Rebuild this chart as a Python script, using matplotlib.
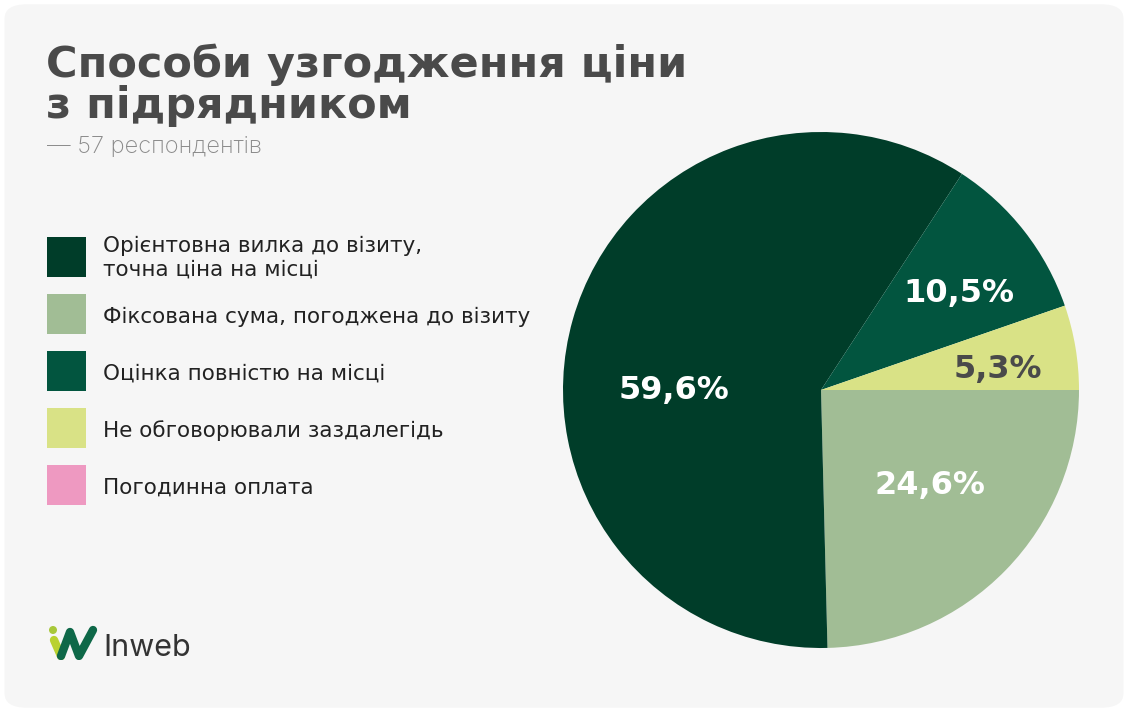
import numpy as np
from matplotlib import pyplot as plt
from matplotlib.patches import FancyBboxPatch, Rectangle, Circle

W, H = 1128, 712

categories = ["Орієнтовна вилка до візиту,\nточна ціна на місці",
              "Фіксована сума, погоджена до візиту",
              "Оцінка повністю на місці",
              "Не обговорювали заздалегідь",
              "Погодинна оплата"]
shares = [59.6, 24.6, 10.5, 5.3, 0.0]
colours = ["#003d29", "#a1bd95", "#02553f", "#d9e286", "#ee99c1"]
label_colours = ["white", "white", "white", "#4a4a4a", "white"]

# drawing order on the pie, clockwise from 3 o'clock
pie_order = [1, 0, 2, 3]
# label placement: (angle offset from wedge middle in degrees, radius fraction)
label_place = {0: (16, 0.57), 1: (3, 0.56), 2: (-3, 0.65), 3: (-3, 0.69)}

title = "Способи узгодження ціни\nз підрядником"
subtitle = "— 57 респондентів"


def fx(px):
    return px / W


def fy(py):
    return 1 - py / H


fig = plt.figure(figsize=(W / 100, H / 100), dpi=100)
fig.patch.set_facecolor("white")

# card background
card = FancyBboxPatch((0.004, 0.006), 0.992, 0.988, boxstyle="round,pad=0,rounding_size=0.02",
                      transform=fig.transFigure, facecolor="#f6f6f6", edgecolor="none", zorder=-5)
fig.patches.append(card)

fig.text(fx(46), fy(118), title, fontsize=31, fontweight="bold", color="#4a4a4a",
         family="DejaVu Sans", va="baseline", linespacing=0.98)
fig.text(fx(47), fy(153), subtitle, fontsize=17, color="#8a8a8a", family="Inter",
         fontweight="light", va="baseline")

# legend
for k, (name, c) in enumerate(zip(categories, colours)):
    top = 237 + 57 * k
    fig.patches.append(Rectangle((fx(47), fy(top + 40)), fx(39), 40 / H, transform=fig.transFigure,
                                 facecolor=c, edgecolor="none", zorder=2))
    if "\n" in name:
        fig.text(fx(103), fy(top + 21), name, fontsize=15.5, color="#222222", family="DejaVu Sans",
                 va="center", linespacing=1.2)
    else:
        fig.text(fx(103), fy(top + 23), name, fontsize=15.5, color="#222222", family="DejaVu Sans",
                 va="center")

# pie
cx, cy, r = 821, 390, 258
ax = fig.add_axes([fx(cx - r), fy(cy + r), 2 * r / W, 2 * r / H])
ax.set_facecolor("none")
wedges, _ = ax.pie([shares[i] for i in pie_order], colors=[colours[i] for i in pie_order],
                   startangle=0, counterclock=False, radius=1.0)
for w, i in zip(wedges, pie_order):
    off, d = label_place[i]
    mid = np.deg2rad((w.theta1 + w.theta2) / 2 + off)
    ax.text(d * np.cos(mid), d * np.sin(mid), f"{shares[i]:.1f}%".replace(".", ","),
            ha="center", va="center", fontsize=23, fontweight="bold", family="DejaVu Sans",
            color=label_colours[i])
ax.set_xlim(-1, 1)
ax.set_ylim(-1, 1)
ax.set_aspect("equal")
ax.axis("off")

# logo
lax = fig.add_axes([fx(48), fy(660), fx(50), 36 / H])
lax.set_xlim(0, 50)
lax.set_ylim(0, 36)
lax.set_aspect("equal")
lax.axis("off")
lax.add_patch(Circle((5, 30), 4, facecolor="#a8c83a", edgecolor="none"))
lax.plot([6, 13], [20, 4], color="#b9d130", linewidth=6, solid_capstyle="round")
lax.plot([13, 22, 31, 45], [4, 28, 4, 30], color="#0e6848", linewidth=6,
         solid_capstyle="round", solid_joinstyle="round")
fig.text(fx(103), fy(656), "Inweb", fontsize=22, color="#333333", family="Inter", va="baseline")

plt.savefig("out.png", dpi=100, facecolor=fig.get_facecolor())
